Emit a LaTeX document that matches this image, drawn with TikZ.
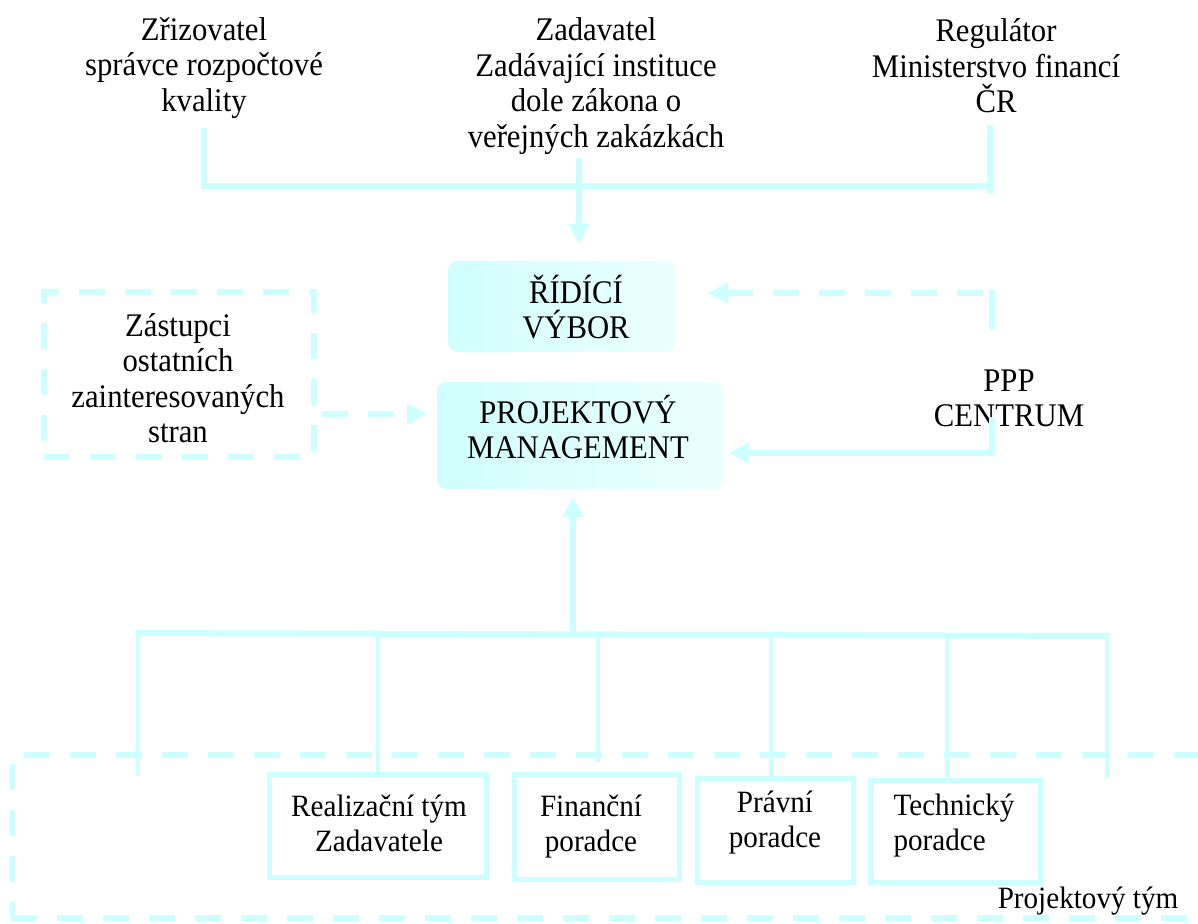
\documentclass[tikz,border=0pt]{standalone}
\usepackage{fontspec}
\setmainfont{Liberation Serif}
\newfontfamily\bigfam[FakeStretch=0.93]{Liberation Serif}
\newfontfamily\smallfam[FakeStretch=0.94]{Liberation Serif}
\usetikzlibrary{arrows.meta}
\definecolor{ln}{RGB}{204,255,255}
\definecolor{fillL}{RGB}{208,254,254}
\definecolor{fillR}{RGB}{236,255,255}
\begin{document}
\begin{tikzpicture}[x=1pt,y=-1pt,
  conn/.style={draw=ln,line width=5.5pt},
  thin/.style={draw=ln,line width=4pt},
  dconn/.style={draw=ln,line width=5.5pt,dash pattern=on 26pt off 20pt},
  tip/.style={-{Triangle[length=20pt,width=20pt]}},
  big/.style={font=\bigfam\fontsize{33}{35.5}\selectfont,align=center,inner sep=0pt},
  small/.style={font=\smallfam\fontsize{31}{35}\selectfont,align=center,inner sep=0pt},
  softbox/.style={rounded corners=10pt,left color=fillL,right color=fillR,draw=none},
  advbox/.style={draw=ln,line width=5.5pt,inner sep=0pt}]
\useasboundingbox (0,0) rectangle (1198,923);
\fill[white] (0,0) rectangle (1198,923);

% top texts
\node[big] (zriz) at (204,68) {Zřizovatel\\správce rozpočtové\\kvality};
\node[big] (zad) at (596,86) {Zadavatel\\Zadávající instituce\\dole zákona o\\veřejných zakázkách};
\node[big] (reg) at (996,66) {Regulátor\\Ministerstvo financí\\ČR};

% central boxes
\node[softbox,minimum width=228pt,minimum height=91pt] (rid) at (562,306.5) {};
\node[big] (ridt) at (576,307) {ŘÍDÍCÍ\\VÝBOR};
\node[softbox,minimum width=287pt,minimum height=107pt] (pm) at (580.5,435.5) {};
\node[big] (pmt) at (578,427) {PROJEKTOVÝ\\MANAGEMENT};

% stakeholders
\node[draw=ln,line width=5.5pt,dash pattern=on 26pt off 20pt,minimum width=270pt,minimum height=165pt] (zast) at (179,374.5) {};
\node[big] (zastt) at (178,378) {Zástupci\\ostatních\\zainteresovaných\\stran};

% PPP
\node[big] (ppp) at (1009,398.5) {PPP\\CENTRUM};

% connectors top
\coordinate (a1) at (204,128);
\coordinate (a2) at (204,186);
\coordinate (a3) at (990,186);
\coordinate (a4) at (990,125);
\coordinate (a5) at (990,193);
\coordinate (a6) at (579,158);
\coordinate (a7) at (579,244);
\draw[conn] (a1) -- (a2) -- (a3);
\draw[conn] (a4) -- (a5);
\draw[conn,tip] (a6) -- (a7);

% PPP connectors
\coordinate (p1) at (992,329);
\coordinate (p2) at (992,290);
\coordinate (p3) at (983,293);
\coordinate (p4) at (708,293);
\draw[conn] (p1) -- (p2);
\draw[dconn,tip] (p3) -- (p4);
\coordinate (q1) at (992,417);
\coordinate (q2) at (992,453);
\coordinate (q3) at (729,453);
\draw[conn,tip] (q1) -- (q2) -- (q3);

% stakeholder arrow
\coordinate (s1) at (322,414);
\coordinate (s2) at (427,414);
\draw[dconn,tip] (s1) -- (s2);

% bottom boxes
\node[advbox,minimum width=217pt,minimum height=103pt] (real) at (378,826) {};
\node[small] (realt) at (379,823) {Realizační tým\\Zadavatele};
\node[advbox,minimum width=165pt,minimum height=105pt] (fin) at (597,827) {};
\node[small] (fint) at (591,827) {Finanční\\poradce};
\node[advbox,minimum width=156pt,minimum height=104pt] (prav) at (775.5,830.5) {};
\node[small] (pravt) at (775,823) {Právní\\poradce};
\node[advbox,minimum width=170pt,minimum height=102pt] (tech) at (955.5,831.5) {};
\node[small,align=left] (techt) at (954,826) {Technický\\poradce};

\node[small,anchor=base] (tym) at (1088,908) {Projektový tým};

% tree
\coordinate (b0) at (573,633);
\coordinate (b1) at (573,497);
\draw[conn,tip] (b0) -- (b1);
\draw[draw=ln,line width=6pt] (136,633) -- (1110,636);
\draw[thin] (138,633) -- (138,776);
\draw[thin] (378,633) -- (real.north);
\draw[thin] (598,634) -- (598,762);
\draw[thin] (771,635) -- (771,776);
\draw[thin] (947,635) -- (947,777);
\draw[thin] (1107,636) -- (1107,778);

% team dashed frame
\draw[dconn] (24,755) -- (1198,755);
\draw[dconn] (12.5,764) -- (12.5,918);
\draw[dconn] (11,918) -- (1198,918);
\end{tikzpicture}
\end{document}
